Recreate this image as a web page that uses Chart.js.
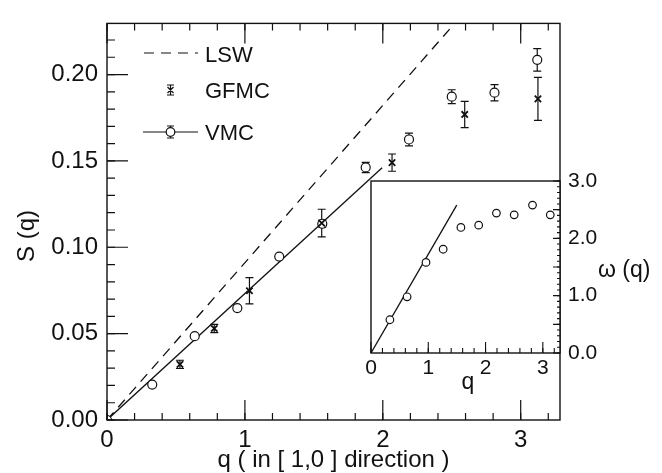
<!DOCTYPE html>
<html>
<head>
<meta charset="utf-8">
<script src="https://cdn.jsdelivr.net/npm/chart.js@4.4.1/dist/chart.umd.min.js"></script>
<style>
  html, body { margin: 0; padding: 0; background: #fff; }
  #wrap { position: relative; width: 662px; height: 473px; }
  #wrap canvas { position: absolute; left: 0; top: 0; }
</style>
</head>
<body>
<div id="wrap">
  <canvas id="mainChart" width="662" height="473"></canvas>
  <canvas id="insetChart" width="662" height="473"></canvas>
</div>
<script>
// main panel, S(q)
const vmcQ = [0, 0.328, 0.636, 0.945, 1.249, 1.561, 1.876, 2.19, 2.5, 2.81, 3.12];
const vmcS = [0, 0.0205, 0.0485, 0.0648, 0.0946, 0.1136, 0.1462, 0.1624, 0.1872, 0.1895, 0.2085];
const vmcErr = [0, 0, 0, 0, 0.001, 0.002, 0.003, 0.0037, 0.004, 0.0047, 0.0065];
const gfmcQ = [0.529, 0.778, 1.033, 1.557, 2.067, 2.594, 3.125];
const gfmcS = [0.0322, 0.0530, 0.0748, 0.1140, 0.1490, 0.1769, 0.1859];
const gfmcErr = [0.0024, 0.0024, 0.0076, 0.0080, 0.0050, 0.0076, 0.0124];
const lswQ = [0, 2.485];
const lswS = [0, 0.2263];
const fitQ = [0, 1.995];
const fitS = [0, 0.146];
const xTickLabels = [0, 1, 2, 3];
const yTickLabels = [0, 0.05, 0.10, 0.15, 0.20];

// inset, omega(q)
const insetQ = [0.33, 0.63, 0.96, 1.26, 1.57, 1.88, 2.19, 2.50, 2.82, 3.13];
const insetW = [0.58, 0.98, 1.58, 1.81, 2.19, 2.23, 2.44, 2.41, 2.58, 2.41];
const insetFitQ = [0, 1.497];
const insetFitW = [0, 2.58];
const insetXTicks = [0, 1, 2, 3];
const insetYTicks = [0, 1, 2, 3];

const ink = '#111';
const family = "'Liberation Sans', Arial, Helvetica, sans-serif";

function pts(xs, ys) {
    return xs.map((x, i) => ({ x: x, y: ys[i] }));
}

function range(a, b, step) {
    const out = [];
    for (let v = a; v <= b + 1e-9; v += step) out.push(+v.toFixed(4));
    return out;
}

// inward tick marks, drawn from the chart's own scales
function tickMarks(ctx, chart, axis, side, values, len) {
    const a = chart.chartArea;
    const s = chart.scales[axis];
    ctx.beginPath();
    values.forEach(v => {
        const p = s.getPixelForValue(v);
        if (side === 'bottom') { ctx.moveTo(p, a.bottom); ctx.lineTo(p, a.bottom - len); }
        if (side === 'top') { ctx.moveTo(p, a.top); ctx.lineTo(p, a.top + len); }
        if (side === 'left') { ctx.moveTo(a.left, p); ctx.lineTo(a.left + len, p); }
        if (side === 'right') { ctx.moveTo(a.right, p); ctx.lineTo(a.right - len, p); }
    });
    ctx.stroke();
}

function errorBars(ctx, chart, xs, ys, errs) {
    const sx = chart.scales.x, sy = chart.scales.y;
    ctx.beginPath();
    xs.forEach((q, i) => {
        if (!errs[i]) return;
        const px = sx.getPixelForValue(q);
        const top = sy.getPixelForValue(ys[i] + errs[i]);
        const bot = sy.getPixelForValue(ys[i] - errs[i]);
        ctx.moveTo(px, top); ctx.lineTo(px, bot);
        ctx.moveTo(px - 4, top); ctx.lineTo(px + 4, top);
        ctx.moveTo(px - 4, bot); ctx.lineTo(px + 4, bot);
    });
    ctx.stroke();
}

const mainDecor = {
    id: 'mainDecor',
    beforeDatasetsDraw(chart) {
        const ctx = chart.ctx;
        ctx.save();
        ctx.strokeStyle = ink;
        ctx.lineWidth = 1.2;
        errorBars(ctx, chart, vmcQ, vmcS, vmcErr);
        errorBars(ctx, chart, gfmcQ, gfmcS, gfmcErr);
        ctx.restore();
    },
    afterDraw(chart) {
        const ctx = chart.ctx;
        const a = chart.chartArea;
        ctx.save();
        ctx.strokeStyle = ink;
        ctx.lineWidth = 1.4;
        ctx.strokeRect(a.left, a.top, a.right - a.left, a.bottom - a.top);
        ctx.lineWidth = 1.2;
        tickMarks(ctx, chart, 'x', 'bottom', range(0, 3.2, 0.2), 7);
        tickMarks(ctx, chart, 'x', 'bottom', xTickLabels, 20);
        tickMarks(ctx, chart, 'x', 'top', range(0, 3.2, 0.2), 7);
        tickMarks(ctx, chart, 'x', 'top', xTickLabels, 20);
        tickMarks(ctx, chart, 'y', 'left', range(0, 0.22, 0.01), 8);
        tickMarks(ctx, chart, 'y', 'left', yTickLabels, 21);

        // y title
        ctx.fillStyle = ink;
        ctx.font = '24px ' + family;
        ctx.textAlign = 'center';
        ctx.textBaseline = 'middle';
        ctx.translate(27, 236);
        ctx.rotate(-Math.PI / 2);
        ctx.fillText('S (q)', 0, 0);
        ctx.setTransform(1, 0, 0, 1, 0, 0);

        // legend
        ctx.font = '22px ' + family;
        ctx.textAlign = 'left';
        ctx.textBaseline = 'alphabetic';
        ctx.lineWidth = 1.2;
        ctx.setLineDash([10, 7]);
        ctx.beginPath(); ctx.moveTo(144, 53); ctx.lineTo(198, 53); ctx.stroke();
        ctx.setLineDash([]);
        ctx.fillText('LSW', 205, 62);

        ctx.beginPath();
        ctx.moveTo(170.5, 85); ctx.lineTo(170.5, 95);
        ctx.moveTo(167, 85); ctx.lineTo(174, 85);
        ctx.moveTo(167, 95); ctx.lineTo(174, 95);
        ctx.moveTo(167.5, 87); ctx.lineTo(173.5, 93);
        ctx.moveTo(173.5, 87); ctx.lineTo(167.5, 93);
        ctx.stroke();
        ctx.fillText('GFMC', 205, 98);

        ctx.beginPath();
        ctx.moveTo(143, 132); ctx.lineTo(198, 132);
        ctx.moveTo(170.5, 126); ctx.lineTo(170.5, 138);
        ctx.moveTo(167, 126); ctx.lineTo(174, 126);
        ctx.moveTo(167, 138); ctx.lineTo(174, 138);
        ctx.stroke();
        ctx.beginPath();
        ctx.arc(170.5, 132, 4.3, 0, Math.PI * 2);
        ctx.fillStyle = '#fff';
        ctx.fill();
        ctx.stroke();
        ctx.fillStyle = ink;
        ctx.fillText('VMC', 205, 140);
        ctx.restore();
    }
};

new Chart(document.getElementById('mainChart'), {
    type: 'scatter',
    data: {
        datasets: [
            {
                label: 'GFMC',
                data: pts(gfmcQ, gfmcS),
                pointStyle: 'crossRot',
                pointRadius: 4.5,
                borderColor: ink,
                borderWidth: 1.8
            },
            {
                label: 'VMC',
                data: pts(vmcQ, vmcS),
                pointStyle: 'circle',
                pointRadius: 4.5,
                backgroundColor: '#fff',
                borderColor: ink,
                borderWidth: 1.2
            },
            {
                label: 'VMC fit',
                data: pts(fitQ, fitS),
                showLine: true,
                pointRadius: 0,
                borderColor: ink,
                borderWidth: 1.3
            },
            {
                label: 'LSW',
                data: pts(lswQ, lswS),
                showLine: true,
                pointRadius: 0,
                borderColor: ink,
                borderWidth: 1.3,
                borderDash: [10, 7]
            }
        ]
    },
    options: {
        responsive: false,
        animation: false,
        layout: { autoPadding: false, padding: { left: 0, top: 9, right: 102, bottom: 0 } },
        plugins: { legend: { display: false }, tooltip: { enabled: false } },
        scales: {
            x: {
                type: 'linear',
                min: 0,
                max: 3.285,
                afterBuildTicks: s => { s.ticks = xTickLabels.map(v => ({ value: v })); },
                afterFit: s => { s.height = 53; },
                grid: { display: false, drawTicks: false },
                border: { display: false },
                ticks: { color: ink, font: { family: family, size: 24 }, padding: 6, maxRotation: 0, autoSkip: false, callback: v => String(v) },
                title: { display: true, text: 'q ( in [ 1,0 ] direction )', color: ink, font: { family: family, size: 24 }, padding: { top: 0, bottom: -2 } }
            },
            y: {
                type: 'linear',
                min: 0,
                max: 0.2296,
                afterBuildTicks: s => { s.ticks = yTickLabels.map(v => ({ value: v })); },
                afterFit: s => { s.width = 107; },
                grid: { display: false, drawTicks: false },
                border: { display: false },
                ticks: { color: ink, font: { family: family, size: 24 }, padding: 9, autoSkip: false, callback: v => v.toFixed(2) }
            }
        }
    },
    plugins: [mainDecor]
});

const insetDecor = {
    id: 'insetDecor',
    beforeDraw(chart) {
        const a = chart.chartArea;
        chart.ctx.save();
        chart.ctx.fillStyle = '#fff';
        chart.ctx.fillRect(a.left, a.top, a.right - a.left, a.bottom - a.top);
        chart.ctx.restore();
    },
    afterDraw(chart) {
        const ctx = chart.ctx;
        const a = chart.chartArea;
        ctx.save();
        ctx.strokeStyle = ink;
        ctx.lineWidth = 1.4;
        ctx.strokeRect(a.left, a.top, a.right - a.left, a.bottom - a.top);
        ctx.lineWidth = 1.1;
        tickMarks(ctx, chart, 'x', 'bottom', range(0, 3.2, 0.2), 5);
        tickMarks(ctx, chart, 'x', 'bottom', insetXTicks, 11);
        tickMarks(ctx, chart, 'y', 'right', range(0, 3, 0.1), 3);
        tickMarks(ctx, chart, 'y', 'right', range(0, 3, 0.5), 7);

        ctx.fillStyle = ink;
        ctx.textBaseline = 'alphabetic';
        ctx.textAlign = 'center';
        ctx.font = '23px ' + family;
        ctx.fillText('q', 468, 389);
        ctx.textAlign = 'left';
        ctx.textBaseline = 'middle';
        ctx.font = '23px ' + family;
        ctx.fillText('\u03c9 (q)', 598, 271);
        ctx.restore();
    }
};

new Chart(document.getElementById('insetChart'), {
    type: 'scatter',
    data: {
        datasets: [
            {
                label: 'omega',
                data: pts(insetQ, insetW),
                pointStyle: 'circle',
                pointRadius: 3.8,
                backgroundColor: '#fff',
                borderColor: ink,
                borderWidth: 1.2
            },
            {
                label: 'slope',
                data: pts(insetFitQ, insetFitW),
                showLine: true,
                pointRadius: 0,
                borderColor: ink,
                borderWidth: 1.3
            }
        ]
    },
    options: {
        responsive: false,
        animation: false,
        layout: { autoPadding: false, padding: { left: 371, top: 181, right: 0, bottom: 0 } },
        plugins: { legend: { display: false }, tooltip: { enabled: false } },
        scales: {
            x: {
                type: 'linear',
                min: 0,
                max: 3.3,
                afterBuildTicks: s => { s.ticks = insetXTicks.map(v => ({ value: v })); },
                afterFit: s => { s.height = 473 - 353; },
                grid: { display: false, drawTicks: false },
                border: { display: false },
                ticks: { color: ink, font: { family: family, size: 21 }, padding: 3, maxRotation: 0, autoSkip: false, callback: v => String(v) }
            },
            y: {
                type: 'linear',
                position: 'right',
                min: 0,
                max: 3.0,
                afterBuildTicks: s => { s.ticks = insetYTicks.map(v => ({ value: v })); },
                afterFit: s => { s.width = 102; },
                grid: { display: false, drawTicks: false },
                border: { display: false },
                ticks: { color: ink, font: { family: family, size: 21 }, padding: 8, autoSkip: false, callback: v => v.toFixed(1) }
            }
        }
    },
    plugins: [insetDecor]
});
</script>
</body>
</html>
